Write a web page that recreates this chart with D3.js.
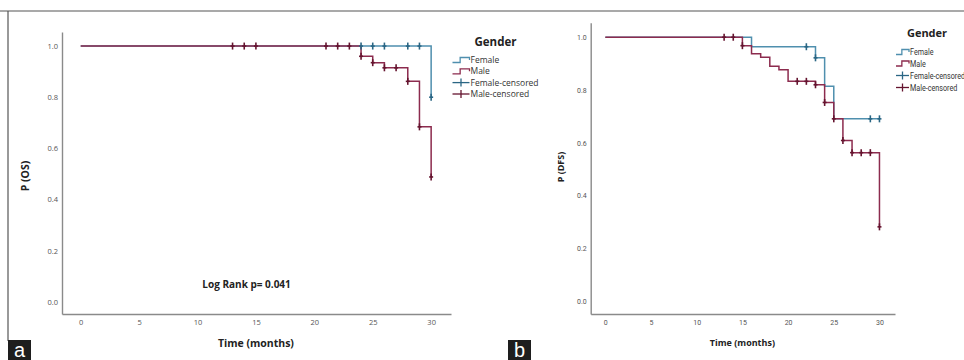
<!DOCTYPE html>
<html>
<head>
<meta charset="utf-8">
<script src="https://cdn.jsdelivr.net/npm/d3@7"></script>
<style>
  body { margin: 0; background: #fff; }
  .tick-a { font-family: "Open Sans", sans-serif; font-size: 7.5px; fill: #555; }
  .tick-b { font-family: "Roboto", sans-serif; font-size: 7px; fill: #555; }
  .title { font-family: "Open Sans", sans-serif; font-weight: bold; fill: #222; }
  .leg-a { font-family: "Open Sans", sans-serif; font-size: 8.5px; fill: #333; }
  .leg-b { font-family: "Roboto", sans-serif; font-size: 9px; fill: #333; }
</style>
</head>
<body>
<div id="wrapper"></div>
<script>
// axis ticks
const timeTicks = [0, 5, 10, 15, 20, 25, 30];
const probTicks = [0.0, 0.2, 0.4, 0.6, 0.8, 1.0];
const legendLabels = ["Female", "Male", "Female-censored", "Male-censored"];

// (a) overall survival, step times and survival after each step
const osFemaleTimes = [0, 30];
const osFemaleSurv = [1.0, 0.80];
const osFemaleCensored = [24, 25, 26, 28, 29, 30];
const osMaleTimes = [0, 24, 25, 26, 28, 29, 30];
const osMaleSurv = [1.0, 0.96, 0.935, 0.915, 0.862, 0.684, 0.488];
const osMaleCensored = [13, 14, 15, 21, 22, 23, 24, 25, 26, 27, 28, 29, 30];

// (b) disease free survival
const dfsFemaleTimes = [0, 16, 23, 24, 25];
const dfsFemaleSurv = [1.0, 0.964, 0.922, 0.814, 0.691];
const dfsFemaleCensored = [22, 23, 29, 30];
const dfsMaleTimes = [0, 15, 16, 17, 18, 19, 20, 23, 24, 25, 26, 27, 30];
const dfsMaleSurv = [1.0, 0.968, 0.937, 0.924, 0.89, 0.877, 0.833, 0.82, 0.753, 0.691, 0.609, 0.563, 0.282];
const dfsMaleCensored = [13, 14, 15, 21, 22, 23, 24, 25, 26, 27, 28, 29, 30];

const endTime = 30;
const colFemale = "#4f8fae", colFemaleMark = "#2a6684";
const colMale = "#8c2b4e", colMaleMark = "#65142f";

const svg = d3.select("#wrapper").append("svg")
  .attr("width", 964).attr("height", 360);

// frame
svg.append("line").attr("x1", 0).attr("x2", 964).attr("y1", 11).attr("y2", 11)
  .attr("stroke", "#555").attr("stroke-width", 1.2);
svg.append("line").attr("x1", 8).attr("x2", 8).attr("y1", 11).attr("y2", 341)
  .attr("stroke", "#555").attr("stroke-width", 1.2);

function survAt(times, surv, t) {
  let v = surv[0];
  times.forEach((tt, i) => { if (tt <= t) v = surv[i]; });
  return v;
}

function drawPanel(p) {
  const x = d3.scaleLinear().domain([-1.6, 31.7]).range(p.xr);
  const y = d3.scaleLinear().domain([-0.048, 1.055]).range(p.yr);
  const g = svg.append("g");

  // axis lines only (no tick marks)
  const xAxis = d3.axisBottom(x).tickValues(timeTicks).tickSize(0).tickPadding(6).tickFormat(d3.format("d"));
  const yAxis = d3.axisLeft(y).tickValues(probTicks).tickSize(0).tickPadding(p.yPad).tickFormat(d3.format(".1f"));
  const gx = g.append("g").attr("transform", `translate(0,${p.yr[0]})`).call(xAxis);
  const gy = g.append("g").attr("transform", `translate(${p.xr[0]},0)`).call(yAxis);
  [gx, gy].forEach(a => {
    a.select(".domain").attr("stroke", "#8a8a8a").attr("stroke-width", 1.4);
    a.selectAll(".tick text").attr("class", p.tickClass).attr("fill", null);
    a.attr("font-family", null).attr("font-size", null);
  });

  const line = d3.line().x(d => x(d[0])).y(d => y(d[1])).curve(d3.curveStepAfter);
  const curves = [
    {times: p.fT, surv: p.fS, cens: p.fC, col: colFemale, mark: colFemaleMark},
    {times: p.mT, surv: p.mS, cens: p.mC, col: colMale, mark: colMaleMark}
  ];
  curves.forEach(c => {
    const pts = c.times.map((t, i) => [t, c.surv[i]]);
    pts.push([endTime, c.surv[c.surv.length - 1]]);
    g.append("path").datum(pts).attr("d", line)
      .attr("fill", "none").attr("stroke", c.col).attr("stroke-width", 1.5);
  });
  curves.forEach(c => {
    g.selectAll(null).data(c.cens).enter().append("line")
      .attr("x1", d => x(d)).attr("x2", d => x(d))
      .attr("y1", d => y(survAt(c.times, c.surv, d)) - 3.5)
      .attr("y2", d => y(survAt(c.times, c.surv, d)) + 3.5)
      .attr("stroke", c.mark).attr("stroke-width", 1.6);
    g.selectAll(null).data(c.cens).enter().append("line")
      .attr("x1", d => x(d) - 2).attr("x2", d => x(d) + 2)
      .attr("y1", d => y(survAt(c.times, c.surv, d)))
      .attr("y2", d => y(survAt(c.times, c.surv, d)))
      .attr("stroke", c.mark).attr("stroke-width", 1.6);
  });

  // axis titles
  g.append("text").attr("class", "title").attr("x", (x(0) + x(30)) / 2).attr("y", p.xTitleY)
    .attr("text-anchor", "middle").style("font-size", p.titleSize + "px").text("Time (months)");
  g.append("text").attr("class", "title")
    .attr("transform", `translate(${p.yTitleX},${p.yTitleY}) rotate(-90)`)
    .attr("text-anchor", "middle").style("font-size", p.titleSize + "px").text(p.yTitle);

  // legend
  const lg = g.append("g").attr("transform", `translate(${p.legX},0)`);
  lg.append("text").attr("class", "title").attr("x", p.legTitleX).attr("y", p.legTitleY)
    .attr("text-anchor", "middle").style("font-size", p.legTitleSize + "px").text("Gender");
  const cols = [colFemale, colMale, colFemaleMark, colMaleMark];
  legendLabels.forEach((lab, i) => {
    const yy = p.legY[i];
    if (i < 2) {
      lg.append("path")
        .attr("d", `M0,${yy + 2.5}H${p.symW * 0.45}V${yy - 2.5}H${p.symW}V${yy}`)
        .attr("fill", "none").attr("stroke", cols[i]).attr("stroke-width", 1.3);
    } else {
      lg.append("line").attr("x1", 0).attr("x2", p.symW).attr("y1", yy).attr("y2", yy)
        .attr("stroke", cols[i]).attr("stroke-width", 1.3);
      lg.append("line").attr("x1", p.symW / 2).attr("x2", p.symW / 2).attr("y1", yy - 4).attr("y2", yy + 4)
        .attr("stroke", cols[i]).attr("stroke-width", 1.3);
    }
    lg.append("text").attr("class", p.legClass)
      .attr("transform", `translate(${p.symW + 1},${yy + 3}) scale(${p.legSx},1)`).text(lab);
  });

  // panel letter
  svg.append("rect").attr("x", p.boxX).attr("y", 340).attr("width", 23).attr("height", 20).attr("fill", "#1e1e1e");
  svg.append("text").attr("x", p.boxX + 11.5).attr("y", 357).attr("text-anchor", "middle")
    .attr("fill", "#fff").style("font-family", "Liberation Sans, sans-serif").style("font-size", "20px")
    .text(p.letter);
  return {x, y, g};
}

const a = drawPanel({
  xr: [62, 451], yr: [314, 32], yPad: 4, tickClass: "tick-a",
  fT: osFemaleTimes, fS: osFemaleSurv, fC: osFemaleCensored,
  mT: osMaleTimes, mS: osMaleSurv, mC: osMaleCensored,
  xTitleY: 347, yTitleX: 29, yTitleY: 176, yTitle: "P (OS)", titleSize: 10.5,
  legX: 452.5, legTitleX: 43, legTitleY: 46, legTitleSize: 11.5, legY: [60, 71.3, 82.6, 94], symW: 17,
  legClass: "leg-a", legSx: 1,
  boxX: 8, letter: "a"
});
a.g.append("text").attr("class", "title").attr("x", a.x(14.2)).attr("y", 288)
  .attr("text-anchor", "middle").style("font-size", "10px").text("Log Rank p= 0.041");

drawPanel({
  xr: [590.7, 895], yr: [314, 22.7], yPad: 4, tickClass: "tick-b",
  fT: dfsFemaleTimes, fS: dfsFemaleSurv, fC: dfsFemaleCensored,
  mT: dfsMaleTimes, mS: dfsMaleSurv, mC: dfsMaleCensored,
  xTitleY: 346, yTitleX: 564, yTitleY: 167, yTitle: "P (DFS)", titleSize: 9,
  legX: 896, legTitleX: 31, legTitleY: 37, legTitleSize: 11, legY: [52, 63.5, 75.5, 87.5], symW: 13,
  legClass: "leg-b", legSx: 0.8,
  boxX: 508, letter: "b"
});
</script>
</body>
</html>
